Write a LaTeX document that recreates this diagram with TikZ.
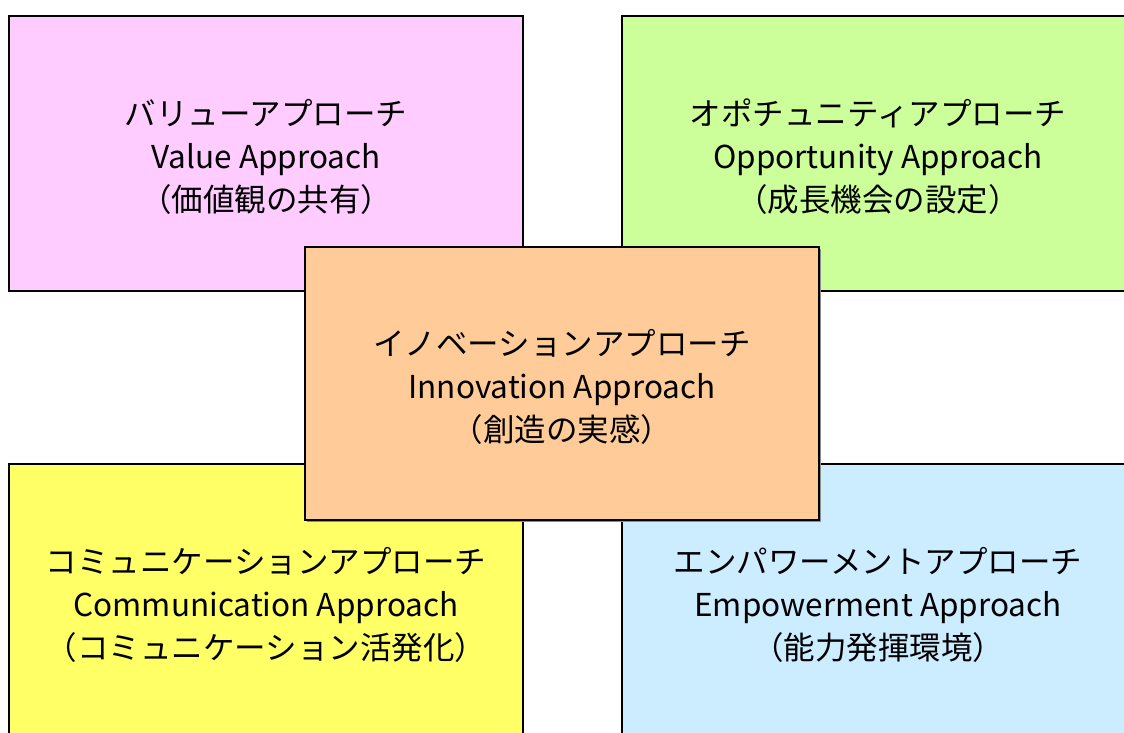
\documentclass[tikz,border=0pt]{standalone}
\usepackage{fontspec}
\setmainfont{Noto Sans CJK JP}
\definecolor{cpink}{HTML}{FFCCFF}
\definecolor{cgreen}{HTML}{CCFF99}
\definecolor{corange}{HTML}{FFCC99}
\definecolor{cyellow}{HTML}{FFFF66}
\definecolor{cblue}{HTML}{CCECFF}
\begin{document}
\begin{tikzpicture}[x=1pt,y=-1pt,
  panel/.style={draw=black,line width=2pt},
  label/.style={align=center,font=\fontsize{31.5}{43}\selectfont,inner sep=0pt}]
\useasboundingbox (0,0) rectangle (1124,732);
\begin{scope}
\clip (0,0) rectangle (1124,732);
\filldraw[panel,fill=cpink] (9,16) rectangle (523,291);
\filldraw[panel,fill=cgreen] (622,16) rectangle (1136,291);
\filldraw[panel,fill=cyellow] (9,464) rectangle (523,740);
\filldraw[panel,fill=cblue] (622,464) rectangle (1136,740);
\fill[black!45] (306.5,248.5) rectangle (820.5,521.5);
\filldraw[panel,fill=corange] (305,247) rectangle (819,520);
\end{scope}
\node[label] (value) at (266,157) {バリューアプローチ\\Value Approach\\（価値観の共有）};
\node[label] (opp) at (878,157) {オポチュニティアプローチ\\Opportunity Approach\\（成長機会の設定）};
\node[label] (inno) at (562,387) {イノベーションアプローチ\\Innovation Approach\\（創造の実感）};
\node[label] (comm) at (266,605) {コミュニケーションアプローチ\\Communication Approach\\（コミュニケーション活発化）};
\node[label] (emp) at (878,605) {エンパワーメントアプローチ\\Empowerment Approach\\（能力発揮環境）};
\end{tikzpicture}
\end{document}
